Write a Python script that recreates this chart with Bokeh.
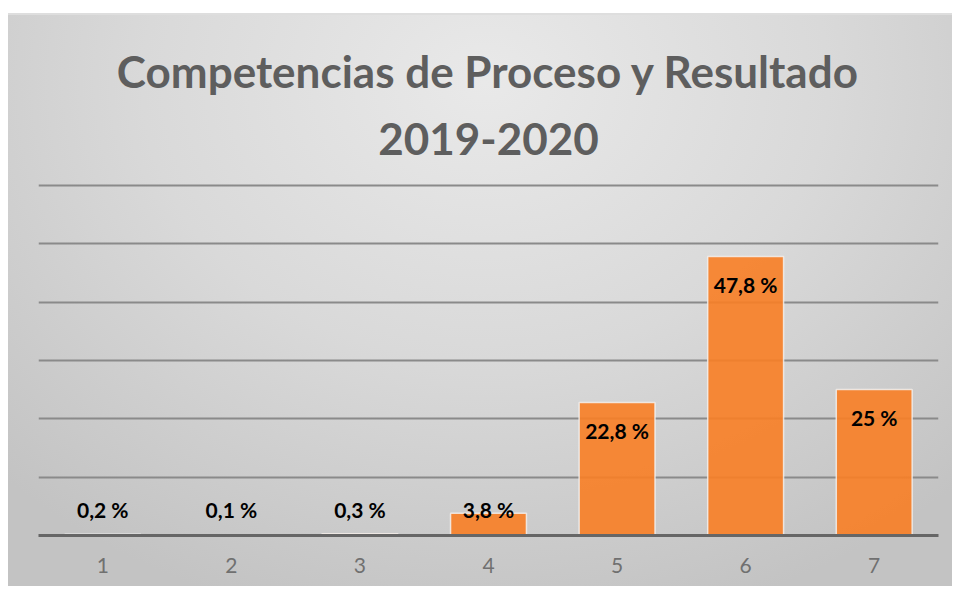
from bokeh.plotting import figure
from bokeh.models import FactorRange, Range1d, FixedTicker, ColumnDataSource, Title, InlineStyleSheet
from bokeh.core.properties import value
from bokeh.embed import file_html
from bokeh.resources import INLINE

categories = ["1", "2", "3", "4", "5", "6", "7"]
percentages = [0.2, 0.1, 0.3, 3.8, 22.8, 47.8, 25.0]
label_texts = ["0,2 %", "0,1 %", "0,3 %", "3,8 %", "22,8 %", "47,8 %", "25 %"]
grid_ticks = [10, 20, 30, 40, 50, 60]
title_line1 = "Competencias de Proceso y Resultado"
title_line2 = "2019-2020"

# label placement: inside end for tall bars, just above baseline for short ones
label_y = [max(v - 4.8, 4.4) for v in percentages]

src = ColumnDataSource(dict(cat=categories, val=percentages, lab=label_texts, ly=label_y))

p = figure(
    x_range=FactorRange(*categories),
    y_range=Range1d(0, 61),
    frame_width=900,
    frame_height=356,
    min_border_left=38,
    min_border_right=14,
    min_border_bottom=51,
    min_border_top=179,
    y_axis_location=None,
    output_backend="svg",
    toolbar_location=None,
    title=title_line1,
)

p.stylesheets = [InlineStyleSheet(css=""":host {
  background:
    linear-gradient(to right, #ffffff 0px, #ffffff 8px, transparent 8px),
    linear-gradient(#ffffff 0px, #ffffff 13px, #dedede 13px, #dedede 15px, transparent 15px),
    radial-gradient(ellipse 72% 95% at 51% 14%, #e9e9e9 0%, #d9d9d9 50%, #c3c3c3 100%);
}""")]
p.border_fill_color = None
p.background_fill_color = None
p.outline_line_color = None

p.title.text_font = "Lato"
p.title.text_font_style = "bold"
p.title.text_font_size = "44px"
p.title.text_color = "#5e5e5e"
p.title.align = "center"
p.title.standoff = 0

t2 = Title(text=title_line2, text_font="Lato", text_font_style="bold", text_font_size="44px",
           text_color="#5e5e5e", align="center", standoff=49)
p.add_layout(t2, "above")

p.xgrid.visible = False
p.ygrid.ticker = FixedTicker(ticks=grid_ticks)
p.ygrid.grid_line_color = "#8a8a8a"
p.ygrid.grid_line_width = 2

p.vbar(x="cat", top="val", width=0.59, source=src, fill_color="#F87E25", fill_alpha=0.9,
       line_color="#f4f4f4", line_width=1.5, line_alpha=0.8)

p.text(x="cat", y="ly", text="lab", source=src, text_font=value("Lato"), text_font_style="bold",
       text_font_size="21px", text_align="center", text_baseline="middle", text_color="#000000")

p.xaxis.axis_line_color = "#666666"
p.xaxis.axis_line_width = 3
p.xaxis.major_tick_line_color = None
p.xaxis.minor_tick_line_color = None
p.xaxis.major_label_text_font = "Lato"
p.xaxis.major_label_text_font_size = "21px"
p.xaxis.major_label_text_color = "#707070"
p.xaxis.major_label_standoff = 16

open("out.html", "w").write(file_html(p, INLINE))
